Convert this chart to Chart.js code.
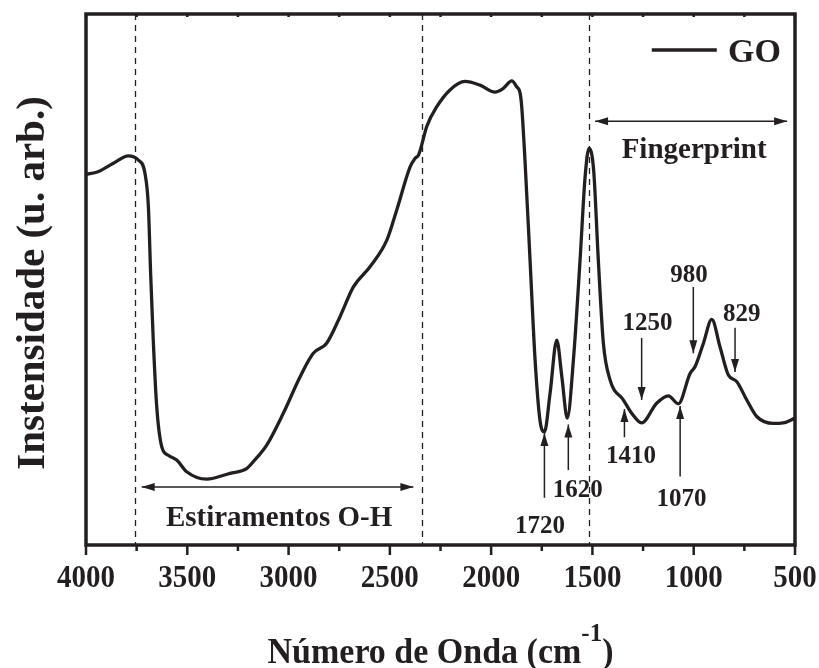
<!DOCTYPE html>
<html lang="pt">
<head>
    <meta charset="UTF-8">
    <title>FTIR - GO</title>
    <script src="https://cdn.jsdelivr.net/npm/chart.js@4.4.1/dist/chart.umd.min.js"></script>
    <style>
        body {
            margin: 0;
            background: #ffffff;
        }
        #wrap {
            width: 819px;
            height: 668px;
        }
    </style>
</head>
<body>
    <div id="wrap">
        <canvas id="ftirChart" width="819" height="668"></canvas>
    </div>

    <script>
        // Spectrum (wavenumber in cm-1, intensity in arbitrary units)
        const wavenumber = [
            4000, 3941, 3865, 3791, 3742, 3709, 3692, 3681, 3668, 3651,
            3626, 3594, 3552, 3503, 3404, 3289, 3207, 3174, 3108, 3026,
            2943, 2878, 2812, 2746, 2680, 2598, 2515, 2466, 2400, 2376,
            2359, 2343, 2318, 2269, 2203, 2129, 2055, 1981, 1940, 1898,
            1874, 1857, 1849, 1833, 1808, 1783, 1759, 1737, 1709, 1676,
            1651, 1624, 1594, 1561, 1536, 1517, 1494, 1471, 1446, 1413,
            1347, 1306, 1257, 1183, 1125, 1076, 1018, 993, 952, 911,
            870, 829, 788, 738, 689, 607, 558, 500
        ];
        const intensity = [
            69.8, 70.3, 71.9, 73.3, 72.5, 70.0, 63.7, 51.2, 38.6, 26.1,
            18.5, 16.9, 16.0, 13.8, 12.4, 13.5, 14.4, 15.7, 18.8, 24.8,
            31.7, 36.1, 38.0, 43.0, 48.6, 52.4, 57.4, 63.1, 71.2, 72.8,
            73.4, 75.3, 78.8, 82.5, 85.7, 87.3, 86.6, 85.3, 86.0, 87.4,
            86.3, 85.1, 82.5, 72.5, 53.7, 34.8, 23.5, 21.3, 28.6, 38.6,
            31.7, 23.9, 34.8, 53.7, 69.4, 74.7, 70.6, 53.7, 38.0, 31.1,
            27.3, 24.8, 23.0, 26.7, 28.1, 26.6, 32.3, 33.6, 38.0, 42.5,
            37.3, 32.0, 30.8, 27.3, 24.2, 22.9, 23.0, 23.9
        ];

        const majorTicks = [4000, 3500, 3000, 2500, 2000, 1500, 1000, 500];
        const minorTicks = [3750, 3250, 2750, 2250, 1750, 1250, 750];
        const regionBounds = [3758, 2342, 1517];
        const peakLabels = ['1720', '1620', '1410', '1250', '1070', '980', '829'];

        // where each peak arrow and its label sit (x in cm-1, y in plot units)
        const peakPlacement = [
            { at: 1737, from: 8.9, to: 21.1, tx: 1759, ty: 2.3 },
            { at: 1619, from: 14.1, to: 22.7, tx: 1573, ty: 9.1 },
            { at: 1342, from: 20.3, to: 25.6, tx: 1309, ty: 15.4 },
            { at: 1257, from: 39.0, to: 27.3, tx: 1228, ty: 40.5 },
            { at: 1067, from: 12.9, to: 26.2, tx: 1060, ty: 7.3 },
            { at: 1002, from: 48.6, to: 36.1, tx: 1023, ty: 49.6 },
            { at: 796, from: 40.9, to: 32.6, tx: 763, ty: 42.1 }
        ];

        const INK = '#231f20';
        const SERIF = '"Liberation Serif", "Times New Roman", serif';

        function arrowHead(ctx, x1, y1, x2, y2, len, half) {
            const ang = Math.atan2(y2 - y1, x2 - x1);
            ctx.beginPath();
            ctx.moveTo(x2, y2);
            ctx.lineTo(x2 - len * Math.cos(ang) + half * Math.sin(ang),
                       y2 - len * Math.sin(ang) - half * Math.cos(ang));
            ctx.lineTo(x2 - len * Math.cos(ang) - half * Math.sin(ang),
                       y2 - len * Math.sin(ang) + half * Math.cos(ang));
            ctx.closePath();
            ctx.fill();
        }

        function arrow(ctx, x1, y1, x2, y2, both) {
            ctx.beginPath();
            ctx.moveTo(x1, y1);
            ctx.lineTo(x2, y2);
            ctx.stroke();
            arrowHead(ctx, x1, y1, x2, y2, 13, 4);
            if (both) arrowHead(ctx, x2, y2, x1, y1, 13, 4);
        }

        // text drawn a little taller than wide, like the axis numbers
        function tallText(ctx, text, x, y, stretch) {
            ctx.save();
            ctx.translate(x, y);
            ctx.scale(1, stretch);
            ctx.fillText(text, 0, 0);
            ctx.restore();
        }

        const decorations = {
            id: 'decorations',
            beforeDatasetsDraw(chart) {
                const { ctx, chartArea: a, scales: { x } } = chart;
                ctx.save();
                ctx.strokeStyle = INK;
                ctx.lineWidth = 1.3;
                ctx.setLineDash([6, 5]);
                regionBounds.forEach(v => {
                    const px = Math.round(x.getPixelForValue(v)) + 0.5;
                    ctx.beginPath();
                    ctx.moveTo(px, a.top);
                    ctx.lineTo(px, a.bottom);
                    ctx.stroke();
                });
                ctx.restore();
            },
            afterDraw(chart) {
                const { ctx, chartArea: a, scales: { x, y } } = chart;
                ctx.save();
                ctx.strokeStyle = INK;
                ctx.fillStyle = INK;

                // frame
                ctx.lineWidth = 3.5;
                ctx.strokeRect(a.left, a.top, a.right - a.left, a.bottom - a.top);

                // ticks
                ctx.lineWidth = 2.5;
                majorTicks.forEach(v => {
                    const px = x.getPixelForValue(v);
                    ctx.beginPath();
                    ctx.moveTo(px, a.bottom);
                    ctx.lineTo(px, a.bottom + 10);
                    ctx.moveTo(px, a.top);
                    ctx.lineTo(px, a.top + 3);
                    ctx.stroke();
                });
                minorTicks.forEach(v => {
                    const px = x.getPixelForValue(v);
                    ctx.beginPath();
                    ctx.moveTo(px, a.bottom);
                    ctx.lineTo(px, a.bottom + 6);
                    ctx.moveTo(px, a.top);
                    ctx.lineTo(px, a.top + 3);
                    ctx.stroke();
                });

                // tick labels
                ctx.font = 'bold 29px ' + SERIF;
                ctx.textAlign = 'center';
                ctx.textBaseline = 'alphabetic';
                majorTicks.forEach(v => {
                    tallText(ctx, String(v), x.getPixelForValue(v), 587, 1.1);
                });

                // axis titles
                const main = 'Número de Onda (cm';
                ctx.font = 'bold 25px ' + SERIF;
                const supW = ctx.measureText('-1').width;
                ctx.font = 'bold 34px ' + SERIF;
                const mainW = ctx.measureText(main).width;
                const closeW = ctx.measureText(')').width;
                const total = mainW + supW + closeW;
                const tx = (a.left + a.right) / 2 - total / 2;
                ctx.textAlign = 'left';
                tallText(ctx, main, tx, 663, 1.05);
                ctx.font = 'bold 25px ' + SERIF;
                tallText(ctx, '-1', tx + mainW, 641, 1.05);
                ctx.font = 'bold 34px ' + SERIF;
                tallText(ctx, ')', tx + mainW + supW, 663, 1.05);

                ctx.save();
                ctx.translate(44, 283);
                ctx.rotate(-Math.PI / 2);
                ctx.textAlign = 'center';
                ctx.font = 'bold 41px ' + SERIF;
                ctx.fillText('Instensidade (u. arb.)', 0, 0);
                ctx.restore();

                // legend
                ctx.lineWidth = 3.5;
                ctx.beginPath();
                ctx.moveTo(x.getPixelForValue(1207), y.getPixelForValue(93.2));
                ctx.lineTo(x.getPixelForValue(886), y.getPixelForValue(93.2));
                ctx.stroke();
                ctx.font = 'bold 34px ' + SERIF;
                ctx.textAlign = 'left';
                ctx.fillText('GO', x.getPixelForValue(831), y.getPixelForValue(91.0));

                // region arrows and captions
                ctx.lineWidth = 1.5;
                arrow(ctx, x.getPixelForValue(3725), y.getPixelForValue(10.9),
                      x.getPixelForValue(2384), y.getPixelForValue(10.9), true);
                arrow(ctx, x.getPixelForValue(1487), y.getPixelForValue(79.8),
                      x.getPixelForValue(539), y.getPixelForValue(79.8), true);
                ctx.font = 'bold 29px ' + SERIF;
                ctx.textAlign = 'center';
                ctx.fillText('Estiramentos O-H', x.getPixelForValue(3047), y.getPixelForValue(3.6));
                ctx.fillText('Fingerprint', x.getPixelForValue(998), y.getPixelForValue(72.9));

                // peak markers
                ctx.font = 'bold 25px ' + SERIF;
                peakLabels.forEach((label, i) => {
                    const p = peakPlacement[i];
                    const px = x.getPixelForValue(p.at);
                    arrow(ctx, px, y.getPixelForValue(p.from), px, y.getPixelForValue(p.to), false);
                    ctx.fillText(label, x.getPixelForValue(p.tx), y.getPixelForValue(p.ty));
                });

                ctx.restore();
            }
        };

        new Chart(document.getElementById('ftirChart'), {
            type: 'line',
            data: {
                datasets: [{
                    label: 'GO',
                    data: wavenumber.map((w, i) => ({ x: w, y: intensity[i] })),
                    borderColor: INK,
                    borderWidth: 3.3,
                    pointRadius: 0,
                    fill: false,
                    cubicInterpolationMode: 'monotone'
                }]
            },
            options: {
                responsive: false,
                animation: false,
                devicePixelRatio: 1,
                layout: {
                    padding: { left: 86, top: 14, right: 24, bottom: 123 }
                },
                plugins: {
                    legend: { display: false },
                    tooltip: { enabled: false }
                },
                scales: {
                    x: { type: 'linear', reverse: true, min: 500, max: 4000, display: false },
                    y: { min: 0, max: 100, display: false }
                }
            },
            plugins: [decorations]
        });
    </script>
</body>
</html>
